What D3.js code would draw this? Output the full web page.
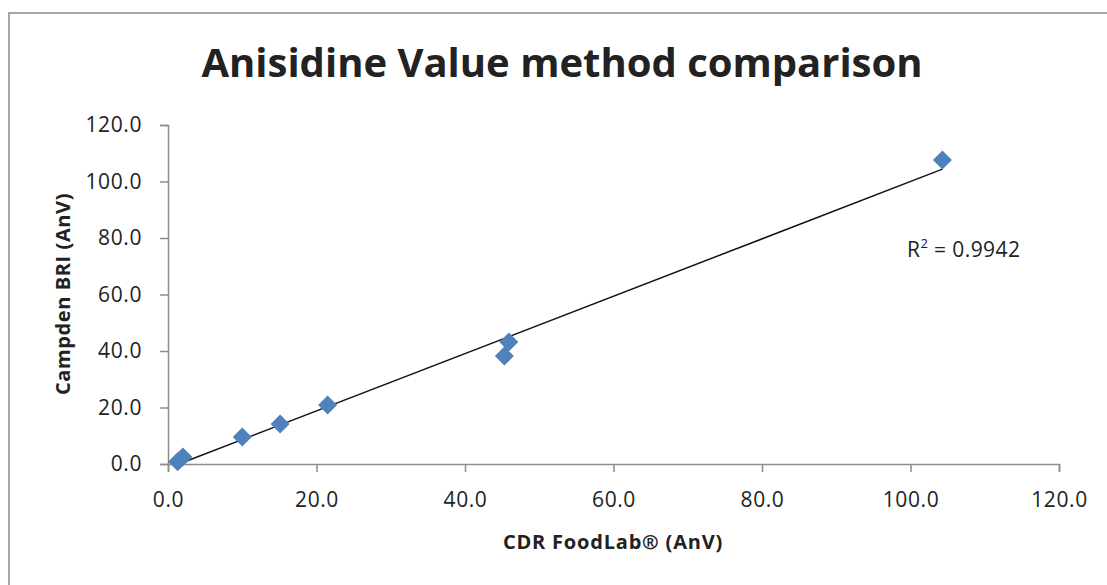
<!DOCTYPE html>
<html lang="en">
<head>
<meta charset="UTF-8">
<title>Anisidine Value method comparison</title>
<script src="https://cdnjs.cloudflare.com/ajax/libs/d3/7.8.5/d3.min.js"></script>
<style>
  body { margin: 0; background: #fff; }
  text { font-family: "Open Sans", "Noto Sans", sans-serif; fill: #222; }
</style>
</head>
<body>
<div id="chart"></div>
<script>
// data
var foodLab = [1.3, 2.0, 10.0, 15.1, 21.5, 45.3, 45.9, 104.3];
var campden = [0.8, 2.5, 9.6, 14.2, 20.9, 38.2, 43.2, 107.6];
var xTicks = [0, 20, 40, 60, 80, 100, 120];
var yTicks = [0, 20, 40, 60, 80, 100, 120];

var svgWidth = 1107, svgHeight = 585;
var margin = { top: 125, right: 48, bottom: 121, left: 168 };
var width = svgWidth - margin.left - margin.right;
var height = svgHeight - margin.top - margin.bottom;

var svg = d3.select("#chart").append("svg")
  .attr("width", svgWidth)
  .attr("height", svgHeight);

// chart frame
svg.append("rect")
  .attr("x", 9).attr("y", 13)
  .attr("width", 1120).attr("height", 600)
  .attr("fill", "none")
  .attr("stroke", "#a6a6a6")
  .attr("stroke-width", 2);

var g = svg.append("g")
  .attr("transform", `translate(${margin.left}, ${margin.top})`);

var x = d3.scaleLinear().domain([0, 120]).range([0, width]);
var y = d3.scaleLinear().domain([0, 120]).range([height, 0]);

var xAxis = g.append("g")
  .attr("transform", `translate(0, ${height})`)
  .call(d3.axisBottom(x).tickValues(xTicks).tickFormat(d3.format(".1f")).tickSize(8).tickSizeOuter(8).tickPadding(20));
var yAxis = g.append("g")
  .call(d3.axisLeft(y).tickValues(yTicks).tickFormat(d3.format(".1f")).tickSize(8).tickSizeOuter(8).tickPadding(18));

[xAxis, yAxis].forEach(function(a) {
  a.select(".domain").attr("stroke", "#8c8c8c").attr("stroke-width", 1.5);
  a.selectAll(".tick line").attr("stroke", "#8c8c8c").attr("stroke-width", 1.5);
  a.selectAll(".tick text").style("font-size", "21px").style("fill", "#222")
    .style("letter-spacing", "0.6px")
    .style("font-family", "'Open Sans', sans-serif");
});

// linear trendline
var mx = d3.mean(foodLab), my = d3.mean(campden);
var sxy = d3.sum(foodLab, (v, i) => (v - mx) * (campden[i] - my));
var sxx = d3.sum(foodLab, v => (v - mx) * (v - mx));
var slope = sxy / sxx, icpt = my - slope * mx;
var xr = d3.extent(foodLab);
g.append("line")
  .attr("x1", x(xr[0])).attr("y1", y(slope * xr[0] + icpt))
  .attr("x2", x(xr[1])).attr("y2", y(slope * xr[1] + icpt))
  .attr("stroke", "#111")
  .attr("stroke-width", 1.5);

// diamond markers
g.selectAll("path.pt")
  .data(foodLab)
  .enter()
  .append("path")
  .attr("class", "pt")
  .attr("d", "M0,-9.5L9.5,0L0,9.5L-9.5,0Z")
  .attr("transform", (d, i) => `translate(${x(d)}, ${y(campden[i])})`)
  .attr("fill", "#4f81bd");

// R squared
svg.append("text")
  .attr("x", 907).attr("y", 257)
  .style("font-size", "21px")
  .style("letter-spacing", "0.4px")
  .html('R<tspan baseline-shift="super" font-size="13px">2</tspan> = 0.9942');

// title
svg.append("text")
  .attr("x", 562).attr("y", 77)
  .attr("text-anchor", "middle")
  .style("font-size", "40px")
  .style("font-weight", "bold")
  .text("Anisidine Value method comparison");

// axis titles
svg.append("text")
  .attr("x", 613).attr("y", 549)
  .attr("text-anchor", "middle")
  .style("font-size", "20px")
  .style("letter-spacing", "0.8px")
  .style("font-weight", "bold")
  .text("CDR FoodLab\u00AE (AnV)");

svg.append("text")
  .attr("transform", "translate(70, 294) rotate(-90)")
  .attr("text-anchor", "middle")
  .style("font-size", "20px")
  .style("letter-spacing", "0.6px")
  .style("font-weight", "bold")
  .text("Campden BRI (AnV)");
</script>
</body>
</html>
